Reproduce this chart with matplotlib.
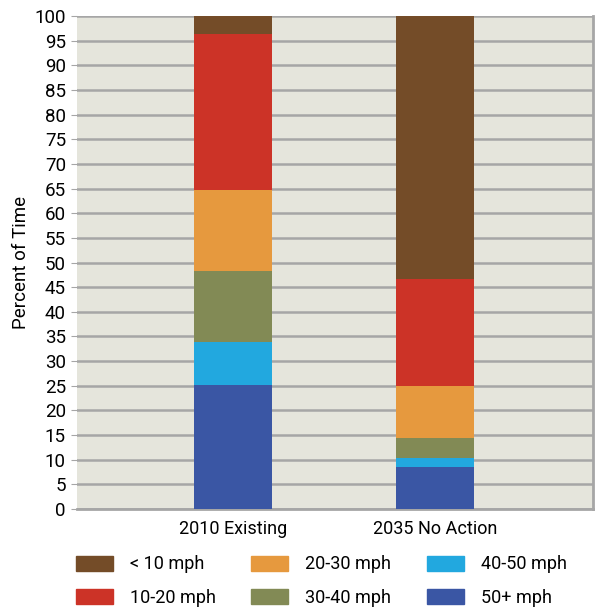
import numpy as np
import matplotlib.pyplot as plt
from matplotlib.patches import Patch

plt.rcParams['font.family'] = ['Roboto', 'DejaVu Sans']

scenarios = ['2010 Existing', '2035 No Action']
speed_bins = ['< 10 mph', '10-20 mph', '20-30 mph', '30-40 mph', '40-50 mph', '50+ mph']
# percent of time in each speed bin, per scenario
share = {
    '< 10 mph':  [3.7, 53.3],
    '10-20 mph': [31.6, 21.8],
    '20-30 mph': [16.4, 10.4],
    '30-40 mph': [14.4, 4.1],
    '40-50 mph': [8.7, 1.9],
    '50+ mph':   [25.2, 8.5],
}
colors = {
    '< 10 mph':  '#744c28',
    '10-20 mph': '#cc3327',
    '20-30 mph': '#e6993e',
    '30-40 mph': '#828a55',
    '40-50 mph': '#22a8df',
    '50+ mph':   '#3a56a4',
}

fig = plt.figure(figsize=(5.95, 6.07), dpi=100)
ax = fig.add_axes([0.1294, 0.1614, 0.8672, 0.8122])
ax.set_facecolor('#e5e5dc')

x = np.arange(len(scenarios))
bottom = np.zeros(len(scenarios))
# stack from the fastest bin upward
for b in reversed(speed_bins):
    vals = np.array(share[b])
    ax.bar(x, vals, 0.386, bottom=bottom, color=colors[b], zorder=3)
    bottom += vals

ax.set_ylim(0, 100)
ax.set_xlim(-0.77, 1.78)
ax.set_yticks(np.arange(0, 101, 5))
ax.set_xticks(x)
ax.set_xticklabels(scenarios)
ax.yaxis.grid(True, color='#a6a6a6', linewidth=1.8, zorder=1)
ax.tick_params(axis='y', length=4, color='#a6a6a6', labelsize=13.5, pad=4)
ax.tick_params(axis='x', length=0, labelsize=13, pad=8)
ax.set_ylabel('Percent of Time', fontsize=13.5, labelpad=3)

for s in ['top', 'left']:
    ax.spines[s].set_visible(False)
for s in ['bottom', 'right']:
    ax.spines[s].set_color('#a6a6a6')
    ax.spines[s].set_linewidth(2)

# legend: three columns of two entries each
handles = [Patch(color=colors[b], label=b) for b in speed_bins]
for i, left in enumerate([0.1277, 0.4218, 0.7176]):
    fig.legend(handles=handles[2 * i:2 * i + 2], loc='upper left',
               bbox_to_anchor=(left, 0.085), borderaxespad=0, borderpad=0,
               frameon=False, fontsize=13, handlelength=2.05, handleheight=0.9,
               handletextpad=0.95, labelspacing=0.85)

fig.savefig('out.png', dpi=100)
